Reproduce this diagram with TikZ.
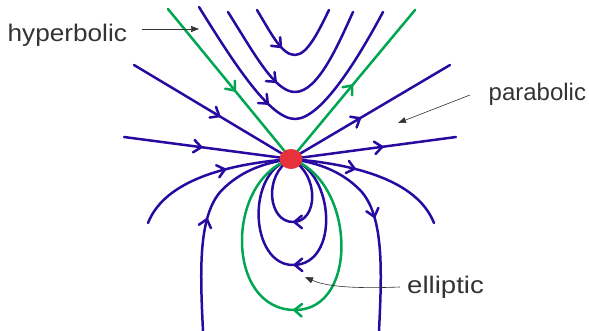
\documentclass[tikz,border=0pt]{standalone}
\usepackage{fontspec}
\setmainfont{Liberation Sans}
\usetikzlibrary{arrows.meta,decorations.markings,shapes.geometric}
\definecolor{flowblue}{RGB}{40,10,160}
\definecolor{flowgreen}{RGB}{0,166,81}
\definecolor{dotred}{RGB}{232,49,58}
\definecolor{txtgray}{RGB}{51,51,51}
\tikzset{
  flow/.style={line width=2.5pt, line cap=round, line join=round},
  bl/.style={flow, draw=flowblue},
  gr/.style={flow, draw=flowgreen},
  midarrow/.style={postaction={decorate}, decoration={markings, mark=at position #1 with {\arrow{Straight Barb[length=7.5pt,width=12.5pt,round]}}}},
  lbl/.style={font=\fontsize{24}{28}\selectfont, text=txtgray, inner sep=0pt},
  ann/.style={draw=txtgray, line width=0.6pt, -{Triangle[length=8pt,width=6pt]}},
  reddot/.style={ellipse, fill=dotred, minimum width=23pt, minimum height=20pt, inner sep=0pt}
}
\begin{document}
\begin{tikzpicture}[x=1pt,y=-1pt]
\useasboundingbox (0,0) rectangle (589,331);
\coordinate (O) at (291,159);
% hyperbolic trajectories
\draw[bl, midarrow=0.38] (257,10) .. controls (272,35) and (282,55) .. (295,55) .. controls (308,55) and (320,28) .. (329,10);
\draw[bl, midarrow=0.41] (228,12) .. controls (255,55) and (275,92) .. (295,92) .. controls (318,92) and (338,45) .. (353,12);
\draw[bl, midarrow=0.41] (199,7) .. controls (235,65) and (270,119) .. (295,119) .. controls (322,119) and (360,55) .. (383,12);
% green separatrices (lines)
\coordinate (GLs) at (168,9);
\coordinate (GRe) at (415,10);
\draw[gr, midarrow=0.55] (GLs) -- (O);
\draw[gr, midarrow=0.5] (O) -- (GRe);
% straight parabolic rays
\coordinate (R1s) at (134,65);
\coordinate (R2e) at (450,65);
\coordinate (R3s) at (124,137);
\coordinate (R4e) at (456,137);
\draw[bl, midarrow=0.55] (R1s) -- (O);
\draw[bl, midarrow=0.44] (O) -- (R2e);
\draw[bl, midarrow=0.47] (R3s) -- (O);
\draw[bl, midarrow=0.56] (O) -- (R4e);
% lower parabolic curves
\draw[bl, midarrow=0.6] (148,223) .. controls (163,185) and (215,165) .. (O);
\draw[bl, midarrow=0.4] (O) .. controls (367,165) and (419,185) .. (434,223);
\draw[bl, midarrow=0.51] (203,331) .. controls (200,270) and (198,215) .. (222,190) .. controls (240,172) and (262,163) .. (O);
\draw[bl, midarrow=0.49] (O) .. controls (320,163) and (342,172) .. (360,190) .. controls (384,215) and (382,270) .. (379,331);
% elliptic loops
\draw[bl, midarrow=0.5] (O) .. controls (320,175) and (318,222) .. (293,222) .. controls (268,222) and (263,175) .. (O);
\draw[bl, midarrow=0.5] (O) .. controls (335,172) and (340,265) .. (293,265) .. controls (250,265) and (245,172) .. (O);
\draw[gr, midarrow=0.5] (O) .. controls (355,180) and (360,310) .. (295,310) .. controls (225,310) and (225,180) .. (O);
% critical point
\node[reddot] (dot) at (O) {};
% labels
\node[lbl, anchor=base west] (hyp) at (7.5,42) {\scalebox{1.09}[1]{hyperbolic}};
\node[lbl, anchor=base west] (para) at (488.5,101) {parabolic};
\node[lbl, anchor=base west] (ell) at (407,293) {\scalebox{1.15}[1]{elliptic}};
\coordinate (hypS) at (142,29);
\coordinate (hypT) at (199,29);
\coordinate (paraS) at (470,95);
\coordinate (paraT) at (398,123);
\coordinate (ellS) at (400,287);
\coordinate (ellT) at (305,277);
\draw[ann] (hypS) -- (hypT);
\draw[ann] (paraS) -- (paraT);
\draw[ann] (ellS) .. controls (350,289) and (325,286) .. (ellT);
\end{tikzpicture}
\end{document}
